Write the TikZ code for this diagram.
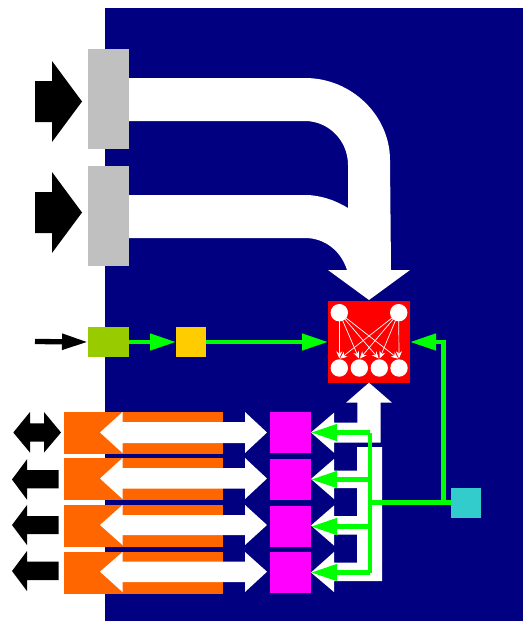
\documentclass[tikz,border=0pt]{standalone}
\usetikzlibrary{arrows.meta}
\definecolor{navyb}{HTML}{000080}
\definecolor{grayb}{HTML}{C0C0C0}
\definecolor{limeb}{HTML}{99CC00}
\definecolor{yelb}{HTML}{FFCC00}
\definecolor{orab}{HTML}{FF6600}
\definecolor{magb}{HTML}{FF00FF}
\definecolor{cyab}{HTML}{33CCCC}
\definecolor{grnb}{HTML}{00FF00}
\definecolor{redb}{HTML}{FF0000}
\tikzset{
  bx/.style 2 args={rectangle,draw=none,inner sep=0pt,outer sep=0pt,minimum width=#1 pt,minimum height=#2 pt},
  neuron/.style={circle,fill=white,draw=none,inner sep=0pt,outer sep=0pt,minimum size=17.4pt},
  ctl/.style={draw=grnb,line width=4.4pt,-{Triangle[length=26pt,width=16pt,fill=grnb]}},
  ctlplain/.style={draw=grnb,line width=4.4pt},
  syn/.style={draw=white,line width=0.7pt,-{Stealth[length=7pt,width=6pt,fill=white]},shorten >=1pt},
  wbar/.style={fill=white,draw=none},
  kbar/.style={fill=black,draw=none}
}
\begin{document}
\begin{tikzpicture}[x=1pt,y=-1pt]
\useasboundingbox (0,0) rectangle (523,621);
\fill[navyb] (105,8) rectangle (523,621);
% wide white buses
\fill[wbar] (129,78) -- (305,78) .. controls (352,78) and (390,116) .. (390,160) -- (391,270) -- (410,270) -- (369,300) -- (328,270) -- (347,270)
  .. controls (341,251) and (325,238) .. (305,238) -- (129,238) -- (129,195) -- (305,195) .. controls (320,195) and (335,200) .. (348,208)
  -- (348,165) .. controls (348,140) and (328,121) .. (305,121) -- (129,121) -- cycle;
% black block arrows
\fill[kbar] (35,81) -- (52,81) -- (52,61) -- (82,101.5) -- (52,142) -- (52,122) -- (35,122) -- cycle;
\fill[kbar] (35,192) -- (52,192) -- (52,172) -- (82,212.5) -- (52,253) -- (52,233) -- (35,233) -- cycle;
\fill[kbar] (13.3,432.5) -- (30,412) -- (30,423.3) -- (44,423.3) -- (44,412) -- (61,432.5) -- (44,452.6) -- (44,441.7) -- (30,441.7) -- (30,452.6) -- cycle;
\fill[kbar] (12,479.5) -- (27,459.3) -- (27,470) -- (58.7,470) -- (58.7,488.3) -- (27,488.3) -- (27,499.7) -- cycle;
\fill[kbar] (12,525) -- (27,505) -- (27,516) -- (58.7,516) -- (58.7,534) -- (27,534) -- (27,545) -- cycle;
\fill[kbar] (12,571) -- (27,551) -- (27,561.7) -- (58.7,561.7) -- (58.7,580) -- (27,580) -- (27,591) -- cycle;
% boxes
\node[bx={41}{100},fill=grayb] (in1) at (108.5,99) {};
\node[bx={41}{100},fill=grayb] (in2) at (108.5,216) {};
\node[bx={41}{30},fill=limeb] (lime) at (108.5,342) {};
\node[bx={30}{30},fill=yelb] (yel) at (191,342) {};
\node[bx={82}{82},fill=redb] (net) at (369,342) {};
\node[bx={159}{42},fill=orab] (or1) at (143.5,433) {};
\node[bx={159}{42},fill=orab] (or2) at (143.5,479) {};
\node[bx={159}{42},fill=orab] (or3) at (143.5,526) {};
\node[bx={159}{42},fill=orab] (or4) at (143.5,573) {};
\node[bx={41}{41},fill=magb] (m1) at (290.5,432.5) {};
\node[bx={41}{41},fill=magb] (m2) at (290.5,479.5) {};
\node[bx={41}{41},fill=magb] (m3) at (290.5,526.5) {};
\node[bx={41}{41},fill=magb] (m4) at (290.5,572.5) {};
\node[bx={30}{30},fill=cyab] (cy) at (466,503) {};
% white double arrows
\foreach \c/\a/\b/\d/\e in {432.5/412/453/422/443,478.5/458/499/468/488.7,525/505/545/515/535,571.7/552/592/561.6/582}{
  \fill[wbar] (100,\c) -- (122.5,\a) -- (122.5,\d) -- (245,\d) -- (245,\a) -- (267,\c) -- (245,\b) -- (245,\e) -- (122.5,\e) -- (122.5,\b) -- cycle;
}
% white arrows to the magenta blocks
\fill[wbar] (369,382.7) -- (392,402.7) -- (380.7,402.7) -- (380.7,442.7) -- (334,442.7) -- (334,452.7) -- (311,432.5) -- (334,412.7) -- (334,422.7) -- (357.3,422.7) -- (357.3,402.7) -- (346,402.7) -- cycle;
\fill[wbar] (357,447) -- (382,447) -- (382,581) -- (334,581) -- (334,592) -- (311,572.5) -- (334,552) -- (334,562.7) -- (357,562.7)
  -- (357,534.5) -- (334,534.5) -- (334,545.5) -- (311,525.5) -- (334,505.5) -- (334,516) -- (357,516)
  -- (357,488) -- (334,488) -- (334,499) -- (311,479) -- (334,459) -- (334,470.7) -- (357,470.7) -- cycle;
% neurons
\node[neuron] (t1) at (339.3,312.7) {};
\node[neuron] (t2) at (398.7,312.7) {};
\node[neuron] (b1) at (339.3,368) {};
\node[neuron] (b2) at (359.3,368) {};
\node[neuron] (b3) at (379.3,368) {};
\node[neuron] (b4) at (399,368) {};
\foreach \s in {t1,t2}\foreach \t in {b1,b2,b3,b4}{
  \draw[syn] (\s.center) -- (\t.north);
}
% black thin arrow
\coordinate (src) at (35,341.5);
\draw[black,line width=5.3pt,-{Triangle[length=26pt,width=15pt,fill=black]}] (src) -- (lime.west);
% green connectors
\draw[ctl] (lime.east) -- (yel.west);
\draw[ctl] (yel.east) -- (net.west);
\coordinate (j) at (443.5,502.5);
\coordinate (k) at (370,502.5);
\coordinate (tt) at (370,432.5);
\coordinate (tb) at (370,572.5);
\draw[ctlplain] (cy.west |- j) -- (k);
\draw[ctl] (j) -- (443.5,342) -- (net.east);
\draw[ctlplain,line cap=square] (tt) -- (tb);
\draw[ctl] (tt) -- (m1.east);
\draw[ctl] (370,479.5) -- (m2.east);
\draw[ctl] (370,526.5) -- (m3.east);
\draw[ctl] (tb) -- (m4.east);
\end{tikzpicture}
\end{document}
